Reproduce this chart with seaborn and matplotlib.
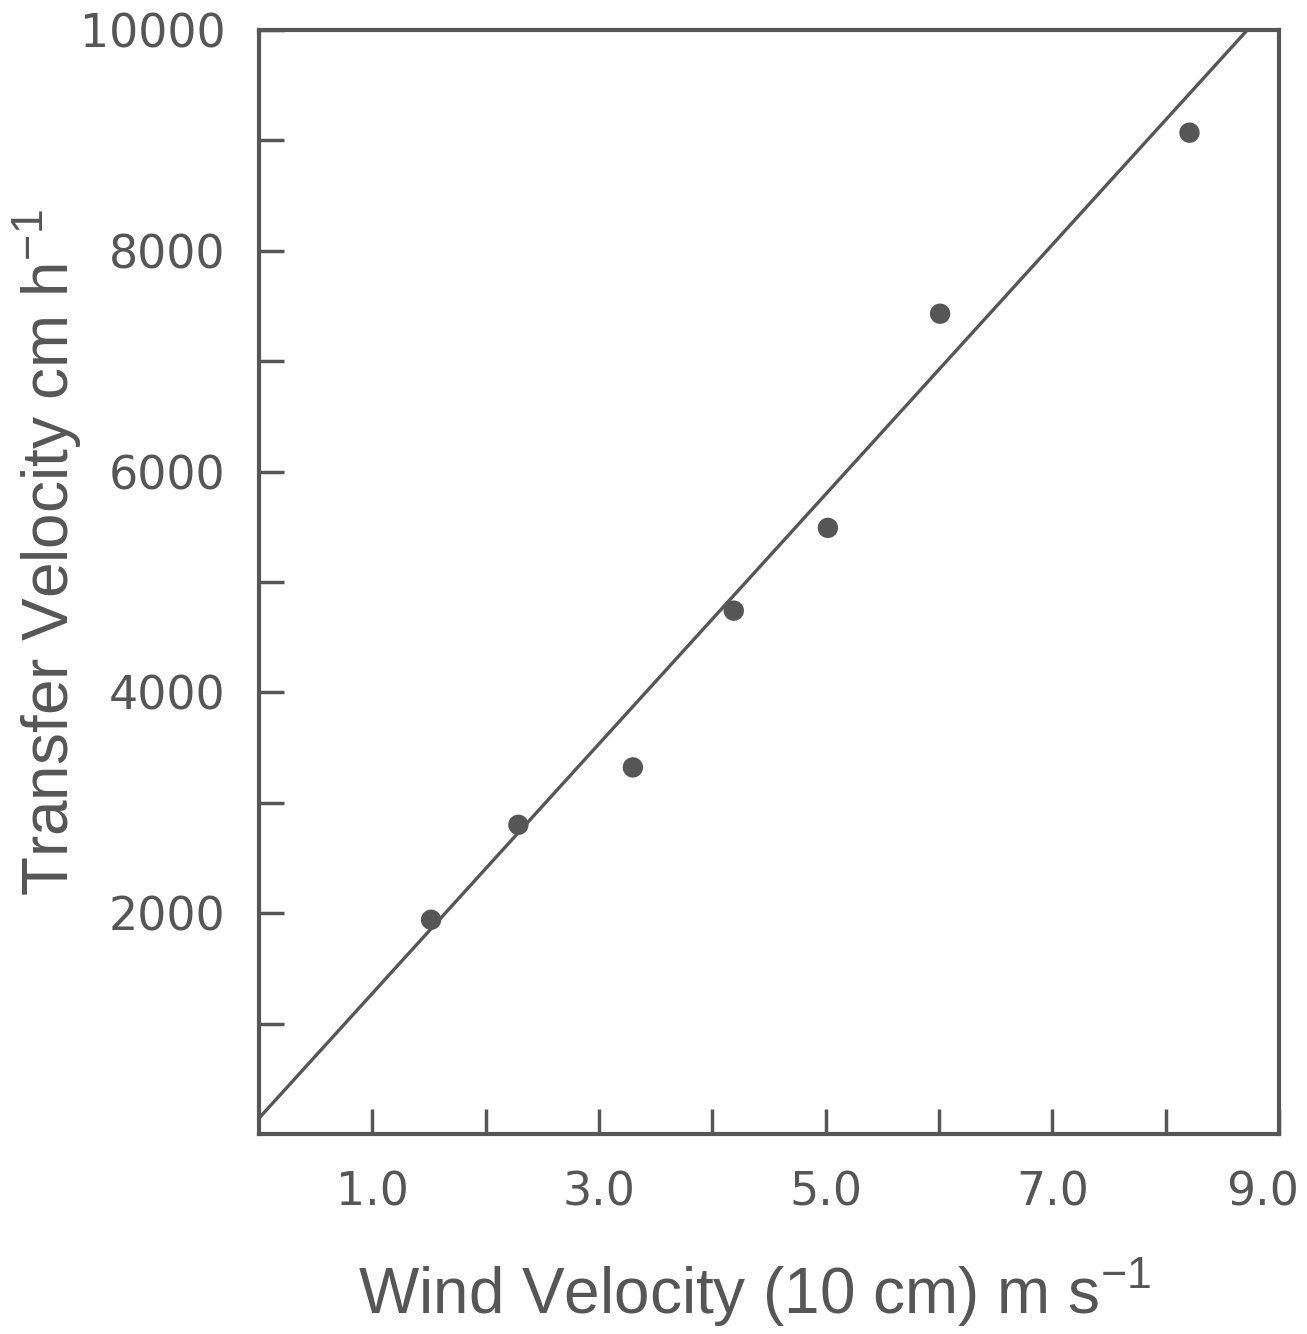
import matplotlib
matplotlib.use("Agg")
import matplotlib.pyplot as plt
import matplotlib.transforms as mtransforms
import seaborn as sns
import pandas as pd

# Measured transfer velocity against wind speed at 10 cm
wind = [1.52, 2.29, 3.30, 4.19, 5.02, 6.01, 8.21]
transfer = [1940, 2800, 3320, 4740, 5490, 7430, 9070]

# Fitted regression line endpoints
fit_x = [0.0, 8.72]
fit_y = [140, 10000]

x_tick_labels = ["1.0", "3.0", "5.0", "7.0", "9.0"]
y_tick_labels = ["2000", "4000", "6000", "8000", "10000"]

ink = "#565656"

sns.set_theme(style="white")
plt.rcParams["font.family"] = ["DejaVu Sans"]
plt.rcParams["mathtext.fontset"] = "custom"
plt.rcParams["mathtext.rm"] = "Liberation Sans"

fig = plt.figure(figsize=(13.07, 13.34), dpi=100)
ax = fig.add_axes([0.198, 0.150, 0.7806, 0.8275])

pts = pd.DataFrame({"wind": wind, "transfer": transfer})
fit = pd.DataFrame({"wind": fit_x, "transfer": fit_y})

sns.lineplot(data=fit, x="wind", y="transfer", ax=ax, color=ink, linewidth=2.4)
sns.scatterplot(data=pts, x="wind", y="transfer", ax=ax, color=ink, s=215,
                edgecolor="none", zorder=3)

ax.set_xlim(0, 9)
ax.set_ylim(0, 10000)

ax.set_xticks([1, 3, 5, 7, 9], labels=x_tick_labels)
ax.set_xticks([2, 4, 6, 8], minor=True)
ax.set_yticks([2000, 4000, 6000, 8000, 10000], labels=y_tick_labels)
ax.set_yticks([1000, 3000, 5000, 7000, 9000], minor=True)

for which in ("major", "minor"):
    ax.tick_params(axis="both", which=which, direction="in", length=18,
                   width=2.5, color=ink, left=True, bottom=True)
ax.tick_params(axis="both", which="major", labelsize=33, labelcolor=ink)
ax.tick_params(axis="x", which="major", pad=26)
ax.tick_params(axis="y", which="major", pad=24)

# keep the last x label inside the figure edge
last = ax.get_xticklabels()[-1]
last.set_transform(last.get_transform() +
                   mtransforms.ScaledTranslation(-16 / 100, 0, fig.dpi_scale_trans))

for spine in ax.spines.values():
    spine.set_color(ink)
    spine.set_linewidth(3)

ax.set_xlabel(r"Wind Velocity (10 cm) m s$^{\mathrm{-1}}$", fontsize=46,
              color=ink, family="Liberation Sans")
ax.xaxis.set_label_coords(0.486, -0.110)
ax.set_ylabel(r"Transfer Velocity cm h$^{\mathrm{-1}}$", fontsize=46,
              color=ink, family="Liberation Sans")
ax.yaxis.set_label_coords(-0.172, 0.527)

fig.savefig("out.png", dpi=100, facecolor="white")
